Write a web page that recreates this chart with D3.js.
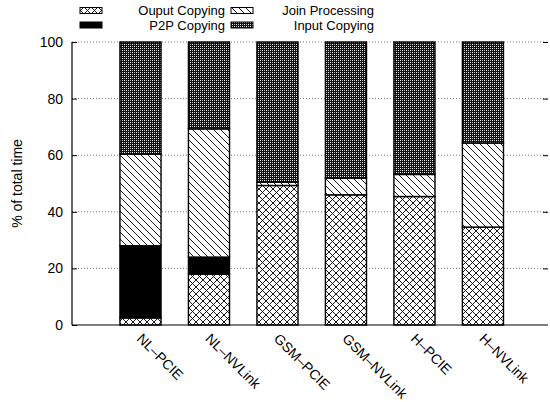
<!DOCTYPE html>
<html><head><meta charset="utf-8">
<script src="https://cdn.jsdelivr.net/npm/d3@7"></script>
<style>body{margin:0;background:#fff}svg{display:block;font-family:"Liberation Sans",Arial,sans-serif}</style>
</head><body><svg id="c" width="550" height="402"></svg>
<script>
const categories = ["NL\u2013PCIE","NL\u2013NVLink","GSM\u2013PCIE","GSM\u2013NVLink","H\u2013PCIE","H\u2013NVLink"];
const outputCopying = [2.5, 18, 49.3, 46, 45.4, 34.6];
const p2pCopying = [25.5, 6, 0, 0, 0, 0];
const joinProcessing = [32.4, 45.3, 1.2, 5.9, 7.8, 29.7];
const inputCopying = [39.6, 30.7, 49.5, 48.1, 46.8, 35.7];
const seriesNames = ["Ouput Copying","P2P Copying","Join Processing","Input Copying"];
const yTicks = [0,20,40,60,80,100];

(function(){
const svg = d3.select("#c");
const defs = svg.append("defs");
const pOut = defs.append("pattern").attr("id","pOut").attr("patternUnits","userSpaceOnUse").attr("width",7).attr("height",7);
pOut.append("rect").attr("width",7).attr("height",7).attr("fill","#fff");
pOut.append("path").attr("d","M0,0L7,7M7,0L0,7M-1,6L1,8M6,-1L8,1M-1,1L1,-1M6,8L8,6").attr("stroke","#000").attr("stroke-width",0.9);
const pJoin = defs.append("pattern").attr("id","pJoin").attr("patternUnits","userSpaceOnUse").attr("width",7).attr("height",7);
pJoin.append("rect").attr("width",7).attr("height",7).attr("fill","#fff");
pJoin.append("path").attr("d","M0,0L7,7M-1,6L1,8M6,-1L8,1").attr("stroke","#000").attr("stroke-width",0.9);
const pIn = defs.append("pattern").attr("id","pIn").attr("patternUnits","userSpaceOnUse").attr("width",4).attr("height",4);
pIn.append("rect").attr("width",4).attr("height",4).attr("fill","#111");
pIn.append("rect").attr("x",0).attr("y",0).attr("width",1).attr("height",1).attr("fill","#fff");
pIn.append("rect").attr("x",2).attr("y",2).attr("width",1).attr("height",1).attr("fill","#fff");
pIn.append("rect").attr("x",2).attr("y",0).attr("width",1).attr("height",1).attr("fill","#bbb");
pIn.append("rect").attr("x",0).attr("y",2).attr("width",1).attr("height",1).attr("fill","#bbb");
const fills = ["url(#pOut)","#000","url(#pJoin)","url(#pIn)"];

const mL = 72, mR = 548, mT = 42, mB = 325;
const x = d3.scaleLinear().domain([-1, 5.95]).range([mL, mR]);
const y = d3.scaleLinear().domain([0, 100]).range([mB, mT]);
const barW = x(0.3) - x(-0.3);

svg.append("g").selectAll("line").data(yTicks.filter(d=>d>0)).join("line")
  .attr("x1",mL).attr("x2",mR).attr("y1",d=>y(d)).attr("y2",d=>y(d))
  .attr("stroke","#555").attr("stroke-width",0.8).attr("stroke-dasharray","1,2");

const rows = categories.map((c,i)=>({cat:c, i, s0:outputCopying[i], s1:p2pCopying[i], s2:joinProcessing[i], s3:inputCopying[i]}));
const layers = d3.stack().keys(["s0","s1","s2","s3"])(rows);
const g = svg.append("g");
layers.forEach((layer,k)=>{
  g.append("g").selectAll("rect").data(layer.filter(d=>d[1]-d[0]>0)).join("rect")
    .attr("x",d=>x(d.data.i)-barW/2).attr("width",barW)
    .attr("y",d=>y(d[1])).attr("height",d=>y(d[0])-y(d[1]))
    .attr("fill",fills[k]).attr("stroke","#000").attr("stroke-width",1.4);
});

const ga = svg.append("g").attr("transform",`translate(${mL},0)`).call(d3.axisLeft(y).tickValues(yTicks).tickSize(-5).tickPadding(9));
ga.select(".domain").remove();
ga.selectAll("text").attr("font-size",14).attr("font-family","Liberation Sans, Arial, sans-serif").attr("fill","#000");
ga.selectAll("line").attr("stroke","#000");
const gr = svg.append("g").attr("transform",`translate(${mR},0)`).call(d3.axisRight(y).tickValues(yTicks.filter(d=>d>0)).tickSize(-5).tickFormat(""));
gr.select(".domain").remove();
gr.selectAll("line").attr("stroke","#000");
svg.append("line").attr("x1",mL).attr("x2",mL).attr("y1",mT).attr("y2",mB).attr("stroke","#000").attr("stroke-width",1.2);
svg.append("line").attr("x1",mL).attr("x2",mR).attr("y1",mB).attr("y2",mB).attr("stroke","#000").attr("stroke-width",1.2);

svg.append("g").selectAll("text").data(categories).join("text")
  .attr("transform",(d,i)=>`translate(${x(i)-1},${mB+11}) rotate(45)`)
  .attr("font-size",14).attr("text-anchor","start").attr("dy","0.35em").text(d=>d);

svg.append("text").attr("transform",`translate(22,${(mT+mB)/2}) rotate(-90)`)
  .attr("text-anchor","middle").attr("font-size",14).text("% of total time");

const leg = [
  {k:0, sx:80, tx:225, cy:10.5},
  {k:1, sx:80, tx:225, cy:25},
  {k:2, sx:231, tx:374, cy:10.5},
  {k:3, sx:231, tx:374, cy:25}
];
const lg = svg.append("g");
leg.forEach(l=>{
  lg.append("rect").attr("x",l.sx).attr("y",l.cy-3).attr("width",22).attr("height",6)
    .attr("fill",fills[l.k]).attr("stroke","#000").attr("stroke-width",1);
  lg.append("text").attr("x",l.tx).attr("y",l.cy).attr("dy","0.35em").attr("text-anchor","end")
    .attr("font-size",13).text(seriesNames[l.k]);
});
})();
</script></body></html>
